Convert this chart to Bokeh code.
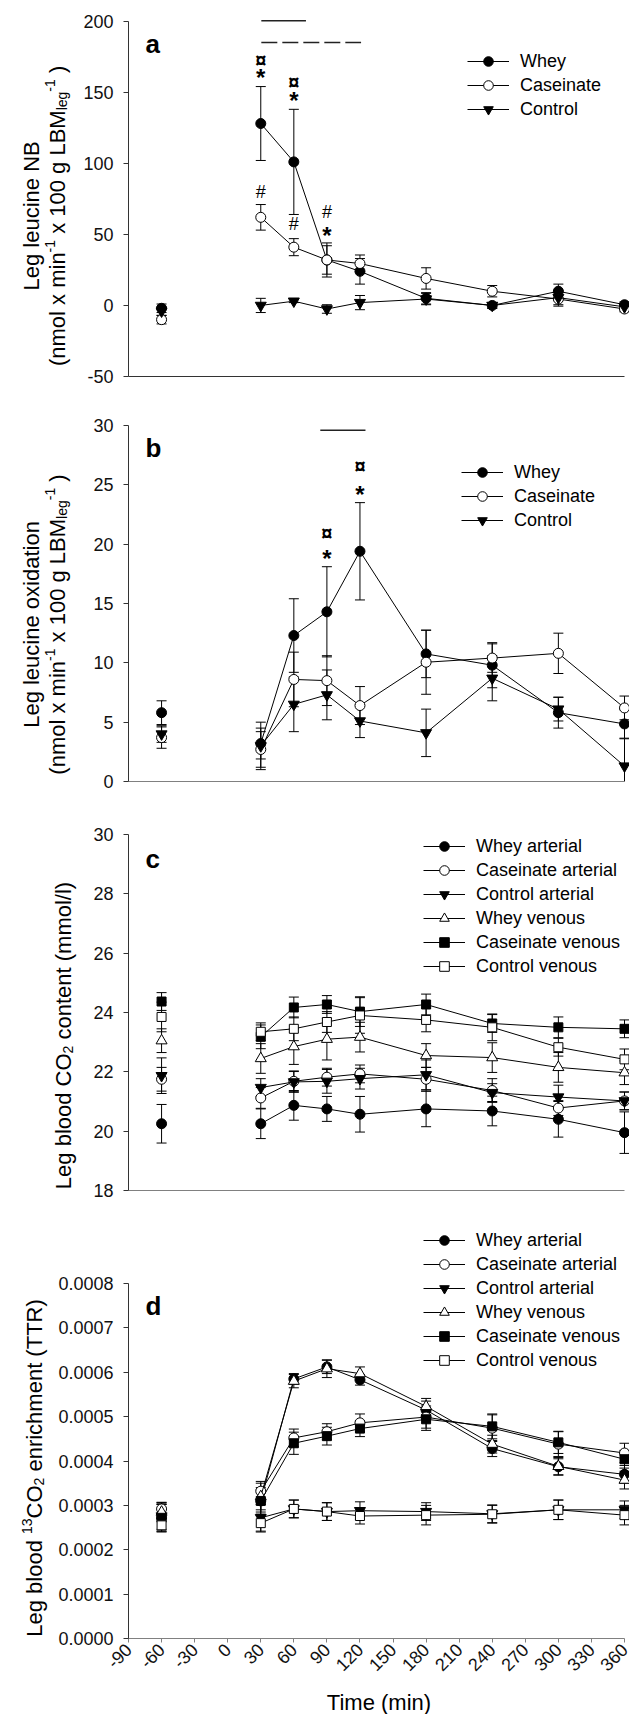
import math
from bokeh.plotting import figure
from bokeh.models import (Range1d, FixedTicker, Whisker, TeeHead, ColumnDataSource,
                          Label, Legend, LegendItem, PrintfTickFormatter)
from bokeh.layouts import column, row
from bokeh.embed import file_html
from bokeh.resources import INLINE
from bokeh.core.properties import value

FONT = "Liberation Sans"

# ---------------- data ----------------
time = [-60, 30, 60, 90, 120, 180, 240, 300, 360]
x_ticks = [-90, -60, -30, 0, 30, 60, 90, 120, 150, 180, 210, 240, 270, 300, 330, 360]

# panel a: leg leucine net balance
whey_nb = [-2, 128, 101, 32, 24, 5, 0, 10, 0.5]
whey_nb_err = [3, 26, 37, 12, 9, 4, 2, 5, 2]
cas_nb = [-10, 62, 41, 32, 29.5, 19, 10, 4.5, -2.5]
cas_nb_err = [3, 9, 6, 10, 6, 7.5, 4, 5, 2]
ctl_nb = [-4, 0, 3, -2.5, 2, 4.5, 0, 5.5, -1]
ctl_nb_err = [3, 5, 1, 3, 5, 4, 2, 5, 2]
a_ticks = [-50, 0, 50, 100, 150, 200]
a_sym_x = [30, 30, 60, 60, 30, 60, 90, 90]
a_sym_y = [173, 160.5, 157.5, 144.5, 80, 57, 65.5, 49.5]
a_sym_t = ["¤", "*", "¤", "*", "#", "#", "#", "*"]
a_solid_x = [30.5, 71]
a_solid_y = [200.3, 200.3]
a_dash_x = [30.5, 121]
a_dash_y = [185, 185]

# panel b: leg leucine oxidation
whey_ox = [5.8, 3.2, 12.3, 14.3, 19.4, 10.75, 9.8, 5.8, 4.85]
whey_ox_err = [1.0, 1.3, 3.1, 3.8, 4.1, 2.0, 1.9, 1.3, 1.2]
cas_ox = [3.7, 2.7, 8.6, 8.5, 6.4, 10.05, 10.4, 10.8, 6.2]
cas_ox_err = [0.9, 1.5, 2.3, 2.1, 1.6, 2.7, 1.2, 1.7, 1.0]
ctl_ox = [4.0, 3.0, 6.5, 7.3, 5.1, 4.1, 8.7, 6.1, 1.3]
ctl_ox_err = [0.7, 2.0, 2.3, 2.1, 1.4, 2.0, 1.9, 1.0, 2.3]
b_ticks = [0, 5, 10, 15, 20, 25, 30]
b_sym_x = [90, 90, 120, 120]
b_sym_y = [20.9, 18.8, 26.6, 24.2]
b_sym_t = ["¤", "*", "¤", "*"]
b_solid_x = [84, 125]
b_solid_y = [29.6, 29.6]

# panel c: leg blood CO2 content
wa_c = [20.25, 20.25, 20.87, 20.75, 20.57, 20.75, 20.68, 20.4, 19.95]
wa_c_err = [0.65, 0.5, 0.5, 0.42, 0.6, 0.6, 0.5, 0.6, 0.7]
ca_c = [21.75, 21.12, 21.68, 21.82, 21.93, 21.75, 21.37, 20.78, 21.02]
ca_c_err = [0.4, 0.35, 0.35, 0.3, 0.3, 0.4, 0.4, 0.25, 0.3]
cta_c = [21.87, 21.47, 21.66, 21.68, 21.77, 21.9, 21.3, 21.15, 21.02]
cta_c_err = [0.6, 0.3, 0.35, 0.4, 0.35, 0.5, 0.3, 0.4, 0.3]
wv_c = [23.05, 22.45, 22.85, 23.1, 23.17, 22.55, 22.48, 22.15, 21.97]
wv_c_err = [0.4, 0.5, 0.6, 0.7, 0.5, 0.4, 0.5, 0.5, 0.4]
cv_c = [24.37, 23.18, 24.17, 24.27, 24.03, 24.27, 23.63, 23.5, 23.45]
cv_c_err = [0.3, 0.4, 0.35, 0.3, 0.5, 0.35, 0.3, 0.35, 0.3]
ctv_c = [23.85, 23.35, 23.45, 23.68, 23.9, 23.75, 23.5, 22.83, 22.42]
ctv_c_err = [0.5, 0.3, 0.4, 0.35, 0.6, 0.4, 0.45, 0.3, 0.35]
c_ticks = [18, 20, 22, 24, 26, 28, 30]

# panel d: leg blood 13CO2 enrichment (TTR)
wa_d = [0.000272, 0.000310, 0.000585, 0.000612, 0.000583, 0.000515, 0.000428, 0.000387, 0.000370]
wa_d_err = [0.000030, 0.000030, 0.000012, 0.000015, 0.000012, 0.000020, 0.000018, 0.000018, 0.000020]
ca_d = [0.000292, 0.000332, 0.000452, 0.000466, 0.000486, 0.000499, 0.000474, 0.000438, 0.000418]
ca_d_err = [0.000015, 0.000022, 0.000020, 0.000018, 0.000020, 0.000025, 0.000030, 0.000028, 0.000022]
cta_d = [0.000276, 0.000272, 0.000292, 0.000286, 0.000288, 0.000286, 0.000281, 0.000290, 0.000290]
cta_d_err = [0.000030, 0.000030, 0.000020, 0.000020, 0.000020, 0.000020, 0.000020, 0.000022, 0.000020]
wv_d = [0.000285, 0.000320, 0.000580, 0.000608, 0.000597, 0.000523, 0.000438, 0.000388, 0.000357]
wv_d_err = [0.000020, 0.000030, 0.000015, 0.000020, 0.000015, 0.000018, 0.000020, 0.000020, 0.000020]
cv_d = [0.000272, 0.000310, 0.000440, 0.000456, 0.000473, 0.000494, 0.000478, 0.000442, 0.000404]
cv_d_err = [0.000030, 0.000025, 0.000025, 0.000020, 0.000018, 0.000025, 0.000028, 0.000025, 0.000020]
ctv_d = [0.000255, 0.000260, 0.000292, 0.000286, 0.000276, 0.000278, 0.000280, 0.000290, 0.000278]
ctv_d_err = [0.000015, 0.000020, 0.000020, 0.000020, 0.000018, 0.000022, 0.000020, 0.000022, 0.000022]
d_ticks = [0, 0.0001, 0.0002, 0.0003, 0.0004, 0.0005, 0.0006, 0.0007, 0.0008]

# ---------------- helpers ----------------
CW = {' ': 278, '(': 333, ')': 333, '*': 389, '-': 333, '.': 278, '/': 278,
      'A': 667, 'B': 667, 'C': 722, 'D': 722, 'E': 667, 'L': 556, 'M': 833, 'N': 722,
      'O': 778, 'R': 722, 'T': 611,
      'a': 556, 'b': 556, 'c': 500, 'd': 556, 'e': 556, 'f': 278, 'g': 556, 'h': 556,
      'i': 222, 'j': 222, 'k': 500, 'l': 222, 'm': 833, 'n': 556, 'o': 556, 'p': 556,
      'r': 333, 's': 500, 't': 278, 'u': 556, 'v': 500, 'w': 722, 'x': 500, 'y': 500, 'z': 500}


def tw(s, size):
    return sum(CW.get(ch, 556) for ch in s) * size / 1000.0


FRAME_LEFT = 128  # page x of the y axis (page has no margin)
FRAME_W = 629 - FRAME_LEFT
XMAX = -90 + FRAME_W * 450.0 / 496.0


def make_panel(lo, hi, ticks, axis_top, axis_bot, canvas_top, canvas_bot, frame_top,
               label_w, bottom_ticks=False, fmt=None, xaxis_color="#808080"):
    frame_h = axis_bot - frame_top
    k = (axis_bot - axis_top) / (hi - lo)
    y_end = lo + frame_h / k
    p = figure(frame_width=FRAME_W, frame_height=frame_h, title=None,
               min_border_left=FRAME_LEFT - label_w, min_border_right=0,
               min_border_top=frame_top - canvas_top, min_border_bottom=canvas_bot - axis_bot,
               x_range=Range1d(-90, XMAX), y_range=Range1d(lo, y_end),
               toolbar_location=None, output_backend="svg",
               background_fill_color="white", border_fill_color="white",
               outline_line_color=None)
    p.xgrid.visible = False
    p.ygrid.visible = False
    ya = p.yaxis[0]
    ya.ticker = FixedTicker(ticks=ticks)
    ya.bounds = (lo, hi)
    ya.axis_line_color = "#333333"
    ya.major_tick_line_color = "#333333"
    ya.major_tick_in = 0
    ya.major_tick_out = 5
    ya.minor_tick_line_color = None
    ya.major_label_text_font = FONT
    ya.major_label_text_font_size = "18px"
    ya.major_label_text_color = "#111111"
    ya.major_label_standoff = 10
    ya.formatter = fmt if fmt is not None else PrintfTickFormatter(format="%d")
    xa = p.xaxis[0]
    xa.bounds = (-90, 360)
    xa.axis_line_color = xaxis_color
    xa.minor_tick_line_color = None
    if bottom_ticks:
        xa.ticker = FixedTicker(ticks=x_ticks)
        xa.formatter = PrintfTickFormatter(format="%d")
        xa.major_tick_line_color = xaxis_color
        xa.major_tick_in = 0
        xa.major_tick_out = 4
        xa.major_label_text_font = FONT
        xa.major_label_text_font_size = "18px"
        xa.major_label_text_color = "#111111"
        xa.major_label_orientation = math.pi / 4
        xa.major_label_standoff = 4
        xa.axis_label = "Time (min)"
        xa.axis_label_text_font = FONT
        xa.axis_label_text_font_size = "22px"
        xa.axis_label_text_font_style = "normal"
        xa.axis_label_text_color = "black"
        xa.axis_label_standoff = 10
    else:
        xa.ticker = FixedTicker(ticks=[])
        xa.major_tick_line_color = None
        xa.major_label_text_font_size = "0px"
    return p


def label_fig(w, h):
    f = figure(frame_width=w, frame_height=h, min_border=0, title=None,
               x_axis_location=None, y_axis_location=None,
               toolbar_location=None, output_backend="svg", outline_line_color=None,
               background_fill_color="white", border_fill_color="white",
               x_range=Range1d(0, w), y_range=Range1d(0, h))
    f.xgrid.visible = False
    f.ygrid.visible = False
    return f


def vlabel(f, segs, base_x_page, center_page, canvas_bot_page):
    total = sum(tw(t, s) for t, s, _ in segs)
    pos = center_page + total / 2.0
    for t, s, shift in segs:
        lead = len(t) - len(t.lstrip(" "))
        pos -= tw(" " * lead, s)
        core = t.strip(" ")
        f.add_layout(Label(x=base_x_page - shift, y=canvas_bot_page - pos,
                           angle=math.pi / 2,
                           text=core, text_font=FONT, text_font_size=f"{s}px",
                           text_align="left", text_baseline="alphabetic",
                           text_color="black"))
        pos -= tw(t.lstrip(" "), s)


def letter(p, txt, baseline_page, frame_bot_page):
    p.add_layout(Label(x=145 - FRAME_LEFT, y=frame_bot_page - baseline_page,
                       x_units="screen", y_units="screen", text=txt,
                       text_font=FONT, text_font_size="26px", text_font_style="bold",
                       text_align="left", text_baseline="alphabetic", text_color="black"))


def add_series(p, series, legend_xy, glyph_sizes):
    items = []
    for name, vals, errs, marker, fill in series:
        src = ColumnDataSource(dict(x=time, lower=[v - e for v, e in zip(vals, errs)],
                                    upper=[v + e for v, e in zip(vals, errs)]))
        w = Whisker(base="x", lower="lower", upper="upper", source=src,
                    line_color="black", line_width=1, level="underlay",
                    upper_head=TeeHead(size=10, line_color="black", line_width=1),
                    lower_head=TeeHead(size=10, line_color="black", line_width=1))
        p.add_layout(w)
    for name, vals, errs, marker, fill in series:
        lr = p.line(time[1:], vals[1:], line_color="black", line_width=1)
        sz = glyph_sizes.get(marker, 10)
        sr = p.scatter(time, vals, marker=marker, size=sz, fill_color=fill,
                       line_color="black", line_width=1)
        items.append(LegendItem(label=name, renderers=[lr, sr]))
    leg = Legend(items=items, location=legend_xy, glyph_width=42, glyph_height=24,
                 label_height=24, label_standoff=11, spacing=0, padding=0, margin=0,
                 border_line_color=None, background_fill_alpha=0,
                 label_text_font=FONT, label_text_font_size="18px",
                 label_text_color="black")
    p.add_layout(leg)


def sym_text(p, xs, ys, ts):
    for x, y, t in zip(xs, ys, ts):
        if t == "*":
            p.text([x], [y], text=[t], text_font=value(FONT), text_font_size="24px",
                   text_font_style="bold", text_align="center", text_baseline="middle",
                   text_color="black")
        elif t == "¤":
            p.text([x], [y], text=[t], text_font=value(FONT), text_font_size="20px",
                   text_font_style="bold", text_align="center", text_baseline="middle",
                   text_color="black")
        else:
            p.text([x], [y], text=[t], text_font=value(FONT), text_font_size="18px",
                   text_align="center", text_baseline="middle", text_color="black")


SIZES = {"circle": 10, "inverted_triangle": 11, "triangle": 11, "square": 9}
TWO_LINE = [("(nmol x min", 22, 0), ("-1", 14, 8), (" x 100 g LBM", 22, 0),
            ("leg", 14, -4), ("-1", 14, 8), (" )", 22, 0)]

# ---------------- panel a ----------------
LW_A = 80
pa = make_panel(-50, 200, a_ticks, 20.7, 376, 0, 400, 17, LW_A, xaxis_color="#333333")
add_series(pa, [("Whey", whey_nb, whey_nb_err, "circle", "black"),
                ("Caseinate", cas_nb, cas_nb_err, "circle", "white"),
                ("Control", ctl_nb, ctl_nb_err, "inverted_triangle", "black")],
           (467 - FRAME_LEFT, 376 - 121), SIZES)
pa.line(a_solid_x, a_solid_y, line_color="#222222", line_width=1.4)
pa.line(a_dash_x, a_dash_y, line_color="#222222", line_width=1.4, line_dash="16 5")
sym_text(pa, a_sym_x, a_sym_y, a_sym_t)
letter(pa, "a", 43, 376)
la = label_fig(LW_A, 400)
vlabel(la, [("Leg leucine NB", 22, 0)], 31, 198.4, 400)
vlabel(la, TWO_LINE, 57, 198.4, 400)

# ---------------- panel b ----------------
LW_B = 88
pb = make_panel(0, 30, b_ticks, 425, 781, 400, 807, 421, LW_B)
add_series(pb, [("Whey", whey_ox, whey_ox_err, "circle", "black"),
                ("Caseinate", cas_ox, cas_ox_err, "circle", "white"),
                ("Control", ctl_ox, ctl_ox_err, "inverted_triangle", "black")],
           (461 - FRAME_LEFT, 781 - 532), SIZES)
pb.line(b_solid_x, b_solid_y, line_color="#222222", line_width=1.4)
sym_text(pb, b_sym_x, b_sym_y, b_sym_t)
letter(pb, "b", 447, 781)
lb = label_fig(LW_B, 407)
vlabel(lb, [("Leg leucine oxidation", 22, 0)], 31, 603, 807)
vlabel(lb, TWO_LINE, 57, 603, 807)

# ---------------- panel c ----------------
LW_C = 88
pc = make_panel(18, 30, c_ticks, 834, 1190, 807, 1215, 830, LW_C)
add_series(pc, [("Whey arterial", wa_c, wa_c_err, "circle", "black"),
                ("Caseinate arterial", ca_c, ca_c_err, "circle", "white"),
                ("Control arterial", cta_c, cta_c_err, "inverted_triangle", "black"),
                ("Whey venous", wv_c, wv_c_err, "triangle", "white"),
                ("Caseinate venous", cv_c, cv_c_err, "square", "black"),
                ("Control venous", ctv_c, ctv_c_err, "square", "white")],
           (423 - FRAME_LEFT, 1190 - 978), SIZES)
letter(pc, "c", 858, 1190)
lc = label_fig(LW_C, 408)
vlabel(lc, [("Leg blood CO", 22, 0), ("2", 14, -4), (" content (mmol/l)", 22, 0)],
       63, 1012, 1215)

# ---------------- panel d ----------------
LW_D = 54
pd = make_panel(0, 0.0008, d_ticks, 1283, 1638, 1215, 1714, 1222, LW_D, bottom_ticks=True,
                fmt=PrintfTickFormatter(format="%.4f"))
add_series(pd, [("Whey arterial", wa_d, wa_d_err, "circle", "black"),
                ("Caseinate arterial", ca_d, ca_d_err, "circle", "white"),
                ("Control arterial", cta_d, cta_d_err, "inverted_triangle", "black"),
                ("Whey venous", wv_d, wv_d_err, "triangle", "white"),
                ("Caseinate venous", cv_d, cv_d_err, "square", "black"),
                ("Control venous", ctv_d, ctv_d_err, "square", "white")],
           (423 - FRAME_LEFT, 1638 - 1372), SIZES)
letter(pd, "d", 1305, 1638)
ld = label_fig(LW_D, 499)
vlabel(ld, [("Leg blood ", 22, 0), ("13", 14, 8), ("CO", 22, 0), ("2", 14, -4),
            (" enrichment (TTR)", 22, 0)], 34, 1460.5, 1714)

layout = column(row(la, pa, spacing=0), row(lb, pb, spacing=0), row(lc, pc, spacing=0),
                row(ld, pd, spacing=0), spacing=0)
open("out.html", "w").write(file_html(layout, INLINE))
